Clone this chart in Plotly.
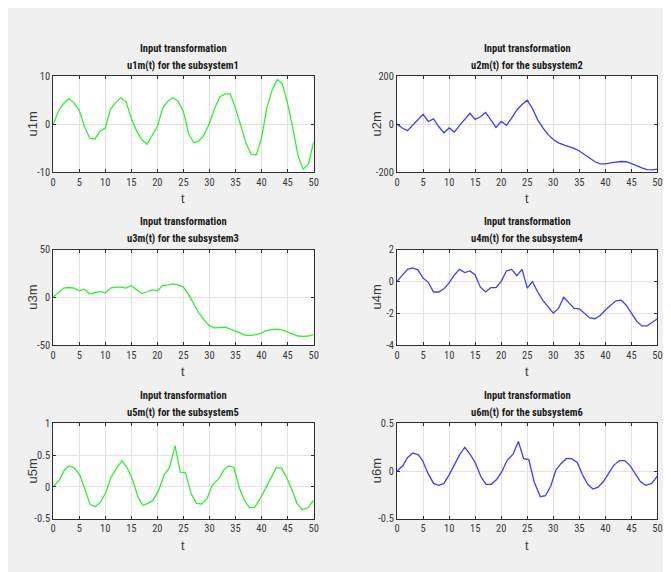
import plotly.graph_objects as go

# ---------------- data ----------------
t = [0, 1, 2, 3, 4, 5, 6, 7, 8, 9, 10, 11, 12, 13, 14, 15, 16, 17, 18, 19, 20,
     21, 22, 23, 24, 25, 26, 27, 28, 29, 30, 31, 32, 33, 34, 35, 36, 37, 38, 39, 40,
     41, 42, 43, 44, 45, 46, 47, 48, 49, 50]

u1m = [0, 2.7, 4.3, 5.3, 4.5, 2.9, -0.5, -2.9, -3.1, -1.5, -0.8,
       3.1, 4.5, 5.5, 4.6, 1.2, -1.4, -3.2, -4.2, -2.2, -0.5,
       3.3, 4.8, 5.5, 4.8, 2.6, -2.0, -3.9, -3.5, -2.2, 0.2,
       3.3, 5.7, 6.3, 6.3, 3.3, -0.5, -3.9, -6.3, -6.4, -2.9,
       3.3, 7.0, 9.3, 8.4, 4.3, -0.8, -6.6, -9.4, -8.3, -3.7]

u2m = [0, -16, -27, -5, 18, 41, 11, 22, -10, -37, -16,
       -33, -5, 20, 45, 20, 31, 49, 18, -14, 11,
       -5, 25, 59, 82, 100, 65, 18, -16, -44, -64,
       -78, -87, -93, -101, -112, -128, -143, -157, -166, -166,
       -162, -158, -156, -157, -164, -173, -183, -190, -191, -188]

u3m = [0, 4.4, 9.6, 10.2, 9.6, 6.8, 8.5, 3.4, 4.4, 6.1, 4.4,
       9.6, 10.6, 10.6, 9.6, 12.3, 7.8, 3.8, 5.5, 7.8, 6.8,
       12.3, 13, 14, 13, 10.6, 2.7, -7.5, -16.7, -23.9, -29.7,
       -32, -31.4, -31.4, -33.4, -35.8, -38.2, -40, -40, -39, -37.2,
       -34.8, -33.8, -33.4, -34.1, -36.2, -39, -40.6, -41, -40.6, -39]

u4m = [0, 0.35, 0.75, 0.85, 0.72, 0.2, -0.06, -0.67, -0.67, -0.47, -0.1,
       0.4, 0.75, 0.55, 0.65, 0.4, -0.37, -0.67, -0.4, -0.4, 0,
       0.65, 0.75, 0.35, 0.75, -0.43, -0.02, -0.67, -1.2, -1.6, -2.0,
       -1.7, -1.0, -1.35, -1.7, -1.73, -2.0, -2.3, -2.35, -2.15, -1.8,
       -1.5, -1.22, -1.18, -1.5, -2.0, -2.5, -2.8, -2.8, -2.57, -2.35]

t5 = [0, 1.1, 2.2, 3.0, 4.0, 5.1, 6.1, 7.1, 8.1, 9.1,
      10.1, 11.1, 12.2, 13.2, 14.2, 15.2, 16.3, 17.2, 18.2, 19.2,
      20.3, 21.3, 22.3, 23.4, 24.4, 25.4, 26.5, 27.5, 28.5, 29.5,
      30.5, 31.8, 32.8, 33.7, 34.7, 35.7, 36.7, 37.7, 38.7, 39.7,
      40.8, 41.8, 42.8, 43.8, 44.8, 45.8, 46.8, 47.8, 48.9, 50]
u5m = [0, 0.10, 0.27, 0.33, 0.30, 0.19, -0.04, -0.28, -0.31, -0.24,
       -0.09, 0.15, 0.30, 0.41, 0.30, 0.12, -0.16, -0.29, -0.26, -0.21,
       -0.04, 0.19, 0.30, 0.65, 0.23, 0.22, -0.11, -0.26, -0.27, -0.19,
       0.02, 0.13, 0.27, 0.33, 0.31, -0.01, -0.21, -0.33, -0.32, -0.19,
       -0.02, 0.14, 0.30, 0.30, 0.15, -0.04, -0.26, -0.36, -0.33, -0.21]

t6 = [0, 1.1, 2.0, 3.0, 4.1, 4.9, 5.9, 7.0, 8.0, 9.0,
      10.0, 11.0, 12.0, 13.0, 14.1, 15.1, 16.1, 17.1, 18.1, 19.1,
      20.1, 21.1, 22.3, 23.3, 24.3, 25.3, 26.3, 27.5, 28.5, 29.5,
      30.5, 31.5, 32.5, 33.5, 34.6, 35.6, 36.6, 37.6, 38.6, 39.6,
      40.6, 41.6, 42.7, 43.7, 44.7, 45.7, 46.7, 47.7, 48.9, 50]
u6m = [0, 0.055, 0.14, 0.19, 0.17, 0.11, -0.02, -0.13, -0.15, -0.13,
       -0.04, 0.07, 0.17, 0.25, 0.17, 0.08, -0.06, -0.14, -0.14, -0.09,
       -0.01, 0.11, 0.18, 0.31, 0.13, 0.12, -0.11, -0.27, -0.26, -0.16,
       0.01, 0.08, 0.13, 0.13, 0.09, -0.04, -0.14, -0.19, -0.17, -0.11,
       -0.02, 0.06, 0.11, 0.11, 0.06, -0.02, -0.11, -0.15, -0.13, -0.05]

x_ticks = [0, 5, 10, 15, 20, 25, 30, 35, 40, 45, 50]
x_ticktext = ["0", "5", "10", "15", "20", "25", "30", "35", "40", "45", "50"]

y_ranges = [[-10, 10], [-200, 200], [-50, 50], [-4, 2], [-0.5, 1], [-0.5, 0.5]]
y_ticks = [[-10, 0, 10], [-200, 0, 200], [-50, 0, 50], [-4, -2, 0, 2],
           [-0.5, 0, 0.5, 1], [-0.5, 0, 0.5]]
y_ticktext = [["-10", "0", "10"], ["-200", "0", "200"], ["-50", "0", "50"],
              ["-4", "-2", "0", "2"], ["-0.5", "0", "0.5", "1"], ["-0.5", "0", "0.5"]]

titles_line1 = ["Input transformation"] * 6
titles_line2 = ["u1m(t) for the subsystem1", "u2m(t) for the subsystem2",
                "u3m(t) for the subsystem3", "u4m(t) for the subsystem4",
                "u5m(t) for the subsystem5", "u6m(t) for the subsystem6"]
y_labels = ["u1m", "u2m", "u3m", "u4m", "u5m", "u6m"]
x_label = "t"

series_x = [t, t, t, t, t5, t6]
series_y = [u1m, u2m, u3m, u4m, u5m, u6m]
series_color = ["#33ee33", "#3d3dff", "#33ee33", "#3d3dff", "#33ee33", "#3d3dff"]

# ---------------- layout helpers ----------------
W, H = 671, 572
col_px = [(42.7, 306.3), (390.7, 654.3)]
row_px = [(63.7, 161.7), (241.0, 338.7), (419.0, 516.3)]

FONT = ("Roboto Condensed, Noto Sans Condensed, Open Sans Condensed, "
        "Liberation Sans Narrow, Liberation Sans, Arial, sans-serif")
AX_COLOR = "#303030"

fig = go.Figure()
annotations = []

for i in range(6):
    r, c = divmod(i, 2)
    n = "" if i == 0 else str(i + 1)
    xa, ya = "x" + n, "y" + n
    fig.add_trace(go.Scatter(x=series_x[i], y=series_y[i], mode="lines",
                             line=dict(color=series_color[i], width=1.3),
                             xaxis=xa, yaxis=ya, showlegend=False,
                             hoverinfo="skip"))
    x0, x1 = col_px[c]
    y0, y1 = row_px[r]
    dom_x = [x0 / W, x1 / W]
    dom_y = [1 - y1 / H, 1 - y0 / H]
    axis_common = dict(showline=True, mirror="ticks", linecolor=AX_COLOR,
                       linewidth=1, ticks="inside", ticklen=3,
                       tickcolor=AX_COLOR, showgrid=True, gridcolor="#e2e2e2",
                       gridwidth=1, zeroline=False,
                       tickfont=dict(family=FONT, size=10.5, color="#3a3a3a"))
    fig.layout["xaxis" + n] = dict(axis_common, domain=dom_x, range=[0, 50],
                                   tickmode="array", tickvals=x_ticks,
                                   ticktext=x_ticktext, anchor=ya)
    fig.layout["yaxis" + n] = dict(axis_common, domain=dom_y, range=y_ranges[i],
                                   tickmode="array", tickvals=y_ticks[i],
                                   ticktext=y_ticktext[i], anchor=xa)
    cx = (x0 + x1) / 2
    annotations.append(dict(text="<b>" + titles_line1[i] + "</b>", x=cx / W,
                            y=1 - (y0 - 28.5) / H, xref="paper", yref="paper",
                            showarrow=False, xanchor="center", yanchor="middle",
                            font=dict(family=FONT, size=10.5, color="#1a1a1a")))
    annotations.append(dict(text="<b>" + titles_line2[i] + "</b>", x=cx / W,
                            y=1 - (y0 - 11.2) / H, xref="paper", yref="paper",
                            showarrow=False, xanchor="center", yanchor="middle",
                            font=dict(family=FONT, size=10.5, color="#1a1a1a")))
    annotations.append(dict(text=y_labels[i], x=(x0 - 21) / W,
                            y=1 - ((y0 + y1) / 2) / H, xref="paper", yref="paper",
                            showarrow=False, xanchor="center", yanchor="middle",
                            textangle=-90,
                            font=dict(family="Liberation Sans, Arial", size=13,
                                      color="#3a3a3a")))
    annotations.append(dict(text=x_label, x=cx / W, y=1 - (y1 + 28) / H,
                            xref="paper", yref="paper", showarrow=False,
                            xanchor="center", yanchor="middle",
                            font=dict(family="Liberation Sans, Arial", size=12.5,
                                      color="#3a3a3a")))

fig.update_layout(width=W, height=H, margin=dict(l=0, r=0, t=0, b=0),
                  paper_bgcolor="#f0f0f0", plot_bgcolor="white",
                  annotations=annotations, showlegend=False)

fig.write_html("out.html")
